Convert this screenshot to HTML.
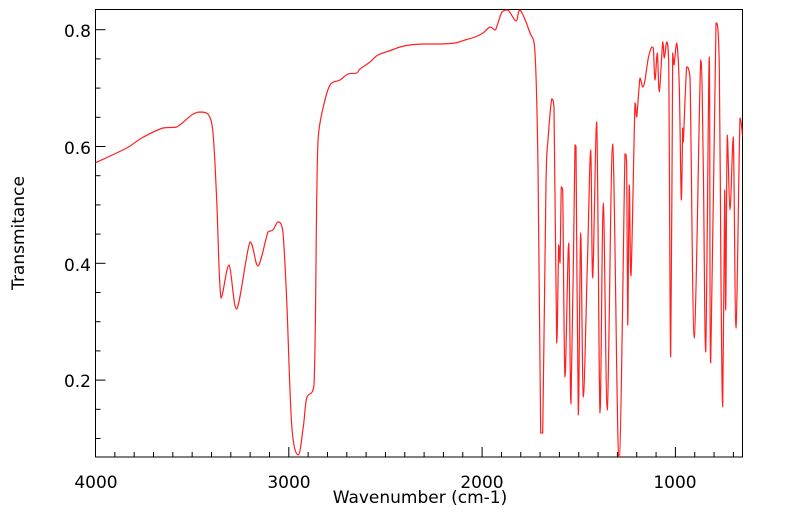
<!DOCTYPE html>
<html><head><meta charset="utf-8"><style>
html,body{margin:0;padding:0;background:#fff;}
svg{display:block;font-family:"DejaVu Sans","Liberation Sans",sans-serif;}
</style></head><body>
<svg id="s" width="799" height="516" viewBox="0 0 799 516" xmlns="http://www.w3.org/2000/svg">
<rect x="95.5" y="9.5" width="647" height="447.5" fill="none" stroke="#000" stroke-width="1"/>
<g id="ticks" stroke="#000" stroke-width="1"></g>
<g font-size="17" fill="#000" text-anchor="end">
<text x="91" y="37">0.8</text>
<text x="91" y="154">0.6</text>
<text x="91" y="271">0.4</text>
<text x="91" y="387">0.2</text>
</g>
<g font-size="17" fill="#000" text-anchor="middle">
<text x="96" y="488">4000</text>
<text x="289" y="488">3000</text>
<text x="482" y="488">2000</text>
<text x="675" y="488">1000</text>
<text x="420" y="503">Wavenumber (cm-1)</text>
</g>
<text font-size="17" text-anchor="middle" transform="translate(24,233) rotate(-90)">Transmitance</text>
<clipPath id="c"><rect x="95.5" y="9.5" width="647" height="447.5"/></clipPath>
<path id="p" clip-path="url(#c)" fill="none" stroke="#ff2020" stroke-width="1.2" stroke-linejoin="round"/>
</svg>
<script>
var g=document.getElementById('ticks'),h='';
for(var i=0;i<=33;i++){var x=95.5+i*19.33;if(x>742)break;var L=(i%10==0)?10:5;h+='<line x1="'+x+'" y1="457" x2="'+x+'" y2="'+(457-L)+'"/>';}
for(var j=0;j<=16;j++){var v=0.05+j*0.05;var y=29.7+(0.8-v)/0.2*116.8;if(y<10||y>456)continue;var M=Math.abs((v*10)%2)<0.01||Math.abs((v*10)%2-2)<0.01;var L2=M?10:5;h+='<line x1="95.5" y1="'+y.toFixed(1)+'" x2="'+(95.5+L2)+'" y2="'+y.toFixed(1)+'"/>';}
g.innerHTML=h;
var s="95,163 126.7,148 141.7,138 163,128 176.7,127 191.7,115 200,112 208,114 213,133 216.7,200 221,298 229,265 236.7,309 250,242 258,266 268,232 273,230 278,222 282.7,230 286.7,300 291.7,425 298.3,455 303.3,427 306.7,398 314,385 316.7,200 318.3,137 323.3,107 330,85 340,80 348,74 356.7,73 360,69 370,62 378,55 392,50 400,47 410,45 425,44 440,44 455,43 465,40 475,37 483,33 490,27 495,30 497,26 502,12 508,10 516,21 520,10 530,33 535,53 538,167 540.7,433 542.7,433 546,183 548,140 551.7,99 554,107 556.7,343 558.7,245 560,263 561.3,187 562.7,190 565,377 568.7,243 571,404 575,145 576,147 578.3,415 580.7,233 583.3,397 587.3,267 590.7,150 592.7,278 596.7,122 600,413 603.3,203 607.3,410 612.7,144 619,462 625,154 626.7,167 627.7,325 629.3,185 631,276 635,103 636.7,117 640,78 642.7,87 645,80 648.3,58 651.7,47 653.3,48 655,80 657.3,53 659.3,92 662.7,42 664.3,58 666.7,42 668.7,62 670.7,357 672.7,53 674,65 676.7,43 679.3,87 681.3,200 682.7,128 683.3,142 686.7,67 690,77 694.3,338 700.7,60 703.3,167 705.7,352 709.3,57 710.7,363 716,23 719.3,67 721,283 722.7,407 724.7,190 725.7,310 727.3,135 730,210 733.3,137 736,328 740,118 742.7,137";
var P=s.trim().split(/\s+/).map(function(t){return t.split(',').map(Number);});
function cl(v,a,b){var lo=Math.min(a,b),hi=Math.max(a,b);return v<lo?lo:(v>hi?hi:v);}
var d='M'+P[0][0]+','+P[0][1];
for(var k=0;k<P.length-1;k++){var p0=P[k-1]||P[k],p1=P[k],p2=P[k+1],p3=P[k+2]||P[k+1];
var c1x=p1[0]+(p2[0]-p0[0])/6,c1y=p1[1]+(p2[1]-p0[1])/6,c2x=p2[0]-(p3[0]-p1[0])/6,c2y=p2[1]-(p3[1]-p1[1])/6;
c1x=cl(c1x,p1[0],p2[0]);c2x=cl(c2x,p1[0],p2[0]);c1y=cl(c1y,p1[1],p2[1]);c2y=cl(c2y,p1[1],p2[1]);
d+=' C'+c1x.toFixed(2)+','+c1y.toFixed(2)+' '+c2x.toFixed(2)+','+c2y.toFixed(2)+' '+p2[0]+','+p2[1];}
document.getElementById('p').setAttribute('d',d);
</script>
</body></html>
